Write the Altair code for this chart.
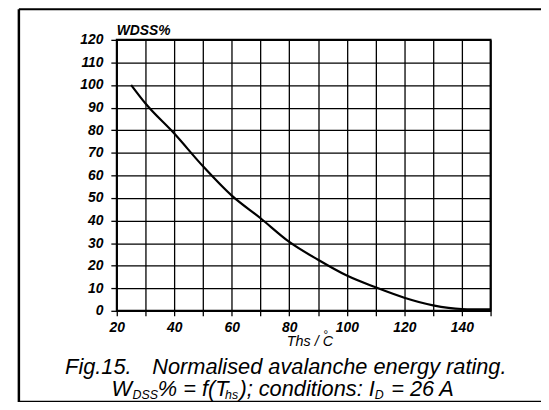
import altair as alt
import pandas as pd

# ---- data ----
temps = [25, 30, 40, 50, 60, 70, 80, 90, 100, 110, 120, 130, 140, 150]
wdss = [100, 91.8, 78.5, 64, 51, 41, 30.5, 22.6, 15.6, 10.4, 5.8, 2.4, 0.8, 0.6]
x_ticks = list(range(20, 151, 10))
y_ticks = list(range(0, 121, 10))

y_title = "WDSS%"
x_title_main = "Ths /  C"
x_title_deg = "°"
cap1_a = "Fig.15."
cap1_b = "Normalised avalanche energy rating."
# caption line 2 pieces: (text, is_subscript, x, align)
cap2 = [("W", False, 126.5, "right"), ("DSS", True, 127, "left"),
        ("% = f(T", False, 152.5, "left"), ("hs", True, 220.5, "left"),
        ("); conditions: I", False, 235, "left"), ("D", True, 372, "left"),
        ("= 26 A", False, 388.5, "left")]

FONT = "Liberation Sans"

df = pd.DataFrame({"T": temps, "W": wdss})
one = pd.DataFrame({"a": [0]})

line = alt.Chart(df).mark_line(color="black", strokeWidth=2.2, interpolate="monotone").encode(
    x=alt.X("T:Q",
            scale=alt.Scale(domain=[20, 150], nice=False, zero=False),
            axis=alt.Axis(values=x_ticks,
                          labelExpr="datum.value % 20 == 0 && datum.value < 150 ? datum.label : ''",
                          title=None, grid=True, gridColor="black", gridWidth=1.3, gridOpacity=1,
                          tickColor="black", tickSize=5, tickWidth=1.3, domain=False,
                          labelFont=FONT, labelFontSize=14, labelFontWeight="bold",
                          labelFontStyle="italic", labelColor="black", labelPadding=5,
                          labelFlush=False)),
    y=alt.Y("W:Q",
            scale=alt.Scale(domain=[0, 120], nice=False),
            axis=alt.Axis(values=y_ticks, title=None, grid=True, gridColor="black",
                          gridWidth=1.3, gridOpacity=1, tickColor="black", tickSize=6,
                          tickWidth=1.3, domain=False, labelFont=FONT, labelFontSize=14,
                          labelFontWeight="bold", labelFontStyle="italic", labelColor="black",
                          labelPadding=8, labelFlush=False)),
)


def txt(s, x, y, size, align="left", weight="normal", baseline="alphabetic"):
    return alt.Chart(one).mark_text(
        text=s, font=FONT, fontSize=size, fontStyle="italic", fontWeight=weight,
        align=align, baseline=baseline, color="black"
    ).encode(x=alt.value(x), y=alt.value(y))


layers = [line]
layers.append(txt(y_title, 0, -4.5, 14, weight="bold"))
layers.append(txt(x_title_main, 172, 310, 14.5))
layers.append(txt(x_title_deg, 208.5, 303, 12))
layers.append(txt(cap1_a, 15, 337.5, 22, align="right"))
layers.append(txt(cap1_b, 215, 337.5, 22, align="center"))

for s, sub, xo, al in cap2:
    if sub:
        layers.append(txt(s, xo - 111, 363.5, 12.5, align=al))
    else:
        layers.append(txt(s, xo - 111, 360.5, 22, align=al))

# outer frame
def rule(x1, x2, y1, y2, w, color="black", dash=None):
    kw = dict(color=color, strokeWidth=w)
    if dash:
        kw["strokeDash"] = dash
    return alt.Chart(one).mark_rule(**kw).encode(
        x=alt.value(x1), x2=alt.value(x2), y=alt.value(y1), y2=alt.value(y2))

layers.append(rule(-99, -99, -31, 367, 2.5))
layers.append(rule(-99, 434.5, -31, -31, 2))
layers.append(rule(-99, 434.5, 366.5, 366.5, 3))
layers.append(rule(434.5, 434.5, -31, 367, 1, color="#999999", dash=[3, 3]))

chart = alt.layer(*layers).properties(
    width=378, height=274,
    padding={"left": 110, "top": 30, "right": 51, "bottom": 90},
    autosize=alt.AutoSizeParams(type="none"),
).configure_view(stroke="black", strokeWidth=2)

chart.save("out.html", embed_options={"renderer": "svg", "actions": False})
